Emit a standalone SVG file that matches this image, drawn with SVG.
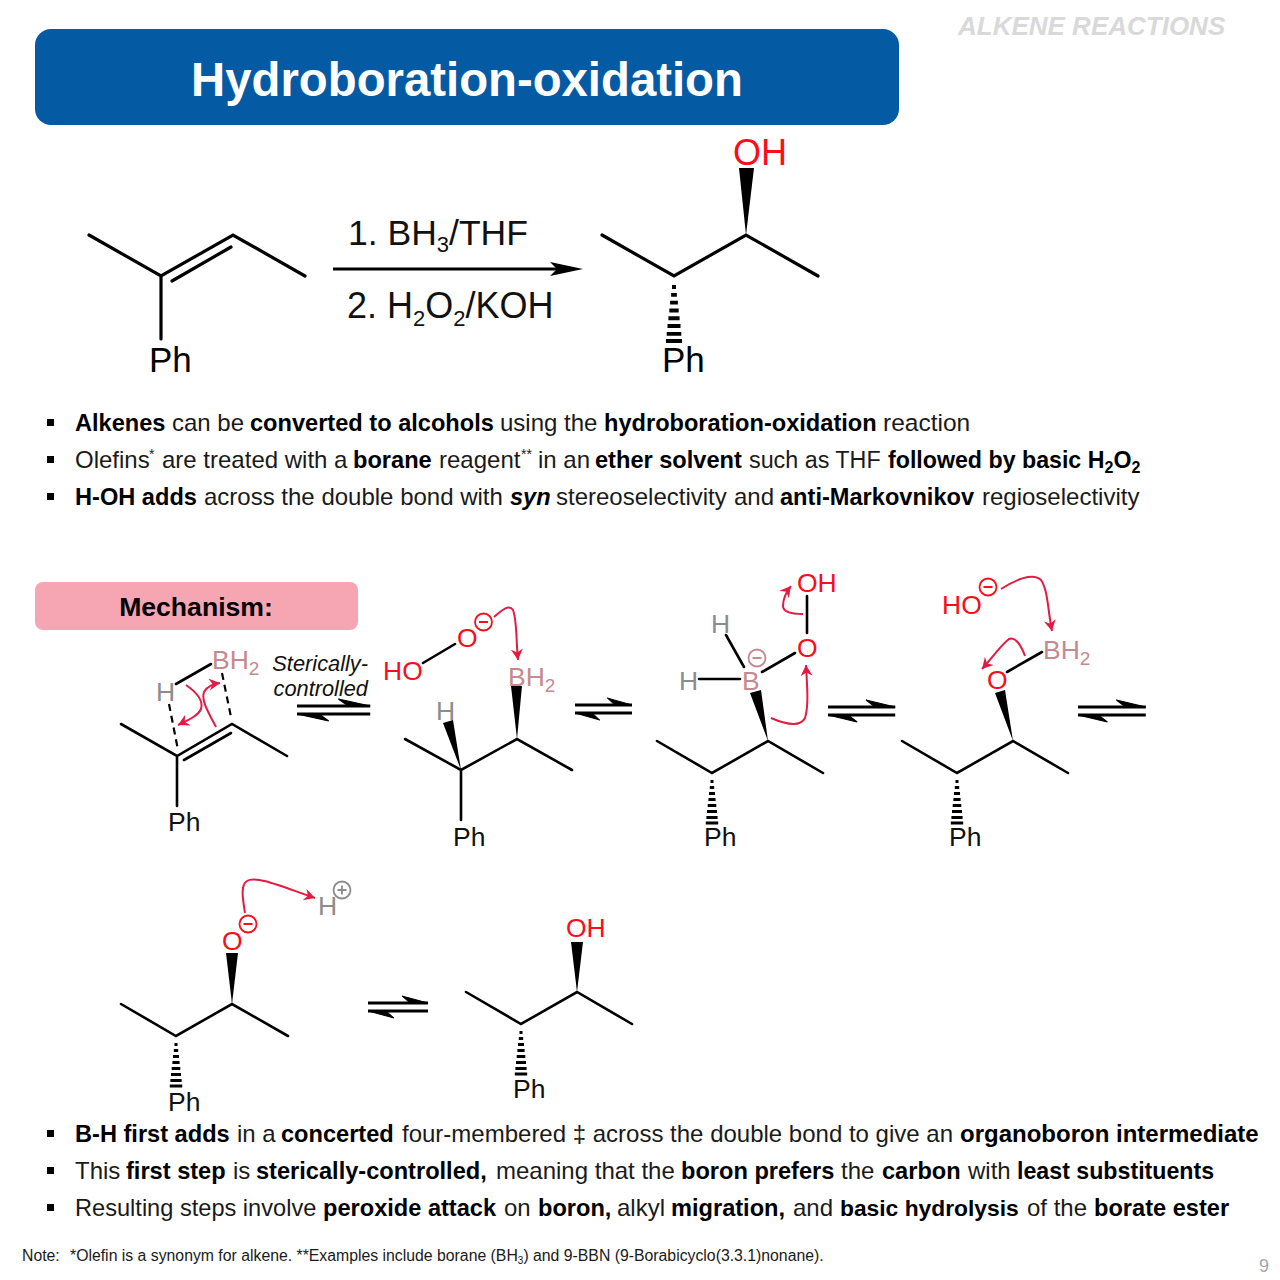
<svg xmlns="http://www.w3.org/2000/svg" xmlns:xlink="http://www.w3.org/1999/xlink" width="1280" height="1280" viewBox="0 0 1280 1280">
<style>
text{font-family:"Liberation Sans",Arial,sans-serif;fill:#000;white-space:pre}
.b{font-weight:700}
.body{font-size:24px;fill:#1a1a1a}
.body .b{fill:#000;font-size:23.6px}
.body .t{font-size:23.300px}
.body .u{font-size:23px}
.at{font-size:26.500px;fill:#111}
.big{font-size:35px}
.h{fill:#8c8c8c}.bo{fill:#c48a8d}.o{fill:#fb0d1b}
.sub{font-size:19px}
.bd{stroke:#000;stroke-width:2.6;fill:none;stroke-linecap:round}
.bdt{stroke:#000;stroke-width:3.2;fill:none;stroke-linecap:round}
.ds{stroke:#000;stroke-width:2.2;fill:none;stroke-dasharray:7 5}
.cv{stroke:#e31b43;stroke-width:2;fill:none}
.eq{stroke:#000;stroke-width:2.8;fill:none}
</style>
<defs>
<marker id="ch" markerUnits="userSpaceOnUse" markerWidth="14" markerHeight="14" refX="11" refY="6" orient="auto"><path d="M0 0L11 6L0 12L3.5 6Z" fill="#e31b43"/></marker>
<path id="hash" d="M-1.5 7h3v3h-3zM-2.2 13h4.4v3h-4.4zM-3 19h6v3h-6zM-3.6 25h7.2v3h-7.2zM-4.3 31h8.6v3h-8.6zM-5 37h10v3h-10zM-5.6 43h11.2v3h-11.2zM-6.2 48.500h12.400v3h-12.400z"/>
<g id="eqa"><path class="eq" d="M0 0H60M0 8H60"/><path d="M60 0L34 -7L42 0Z" stroke="#000" stroke-width="1"/><path d="M0 8L26 15L18 8Z" stroke="#000" stroke-width="1"/></g>
<g id="sq"><rect x="47" y="0" width="7" height="7" fill="#000"/></g>
<g id="minus"><circle r="8.500" fill="none" stroke-width="1.800"/><path d="M-4.500 0H4.500" stroke-width="2"/></g>
</defs>
<rect width="1280" height="1280" fill="#fff"/>

<g id="header">
<rect x="35" y="29" width="864" height="96" rx="16" fill="#045ba4"/>
<text x="467" y="96" text-anchor="middle" class="b" font-size="47.300" style="fill:#fff">Hydroboration-oxidation</text>
<text x="958" y="35" class="b" font-size="26" font-style="italic" style="fill:#d9d9d9">ALKENE REACTIONS</text>
</g>

<g id="reactant-top">
<path class="bdt" d="M89 235L161 276L233 235L305 276M172 281L231 247M161 276V339"/>
<text x="149" y="372" class="big">Ph</text>
</g>
<g id="conditions">
<text x="348" y="245" font-size="35.500" style="fill:#111">1. BH<tspan font-size="22" dy="7">3</tspan><tspan dy="-7">/THF</tspan></text>
<text x="347" y="318" font-size="36" style="fill:#111">2. H<tspan font-size="22" dy="8">2</tspan><tspan dy="-8">O</tspan><tspan font-size="22" dy="8">2</tspan><tspan dy="-8">/KOH</tspan></text>
</g>
<g id="product-top">
<path class="bdt" d="M602 235L674 276L746 235L818 276"/>
<path d="M746 235L739 168H754Z"/>
<use xlink:href="#hash" href="#hash" transform="translate(674 276) scale(1.300)"/>
<text x="733" y="165" font-size="36" class="o">OH</text>
<text x="662" y="372" class="big">Ph</text>
</g>

<g id="bullets-top">
<use href="#sq" y="419"/><use href="#sq" y="456"/><use href="#sq" y="493"/>
<text class="body" y="431"><tspan x="75" class="b">Alkenes</tspan><tspan x="172">can be</tspan><tspan x="250" class="b">converted to alcohols</tspan><tspan x="500">using the</tspan><tspan x="604" class="b">hydroboration-oxidation</tspan><tspan x="883" font-size="24.500">reaction</tspan></text>
<text class="body" y="468"><tspan x="75">Olefins</tspan><tspan x="149" dy="-9" font-size="14">*</tspan><tspan x="162" dy="9">are treated with a</tspan><tspan x="353" class="b">borane</tspan><tspan x="439">reagent</tspan><tspan x="521" dy="-9" font-size="14">**</tspan><tspan x="538" dy="9">in an</tspan><tspan x="595" class="b">ether solvent</tspan><tspan x="749" class="t">such as THF</tspan><tspan x="888" class="b" style="font-size:23.2px">followed by basic H</tspan><tspan class="b" style="font-size:16px" dy="5">2</tspan><tspan class="b" style="font-size:23.2px" dy="-5">O</tspan><tspan class="b" style="font-size:16px" dy="5">2</tspan></text>
<text class="body" y="505"><tspan x="75" class="b">H-OH adds</tspan><tspan x="204">across the double bond with</tspan><tspan x="510" class="b" font-style="italic">syn</tspan><tspan x="556">stereoselectivity</tspan><tspan x="734">and</tspan><tspan x="780" class="b">anti-Markovnikov</tspan><tspan x="982">regioselectivity</tspan></text>
</g>

<g id="mechanism-label">
<rect x="35" y="582" width="323" height="48" rx="8" fill="#f6a5b3"/>
<text x="196" y="616" text-anchor="middle" class="b" font-size="26.600">Mechanism:</text>
</g>

<g id="ts">
<path class="bd" d="M121 724L177 756L232 724L287 756M184 760L231 733M177 756V806M176 684L211 664"/>
<path class="ds" d="M169 704L178 750M222 673L231 717"/>
<text x="156" y="701" class="at h">H</text>
<text x="212" y="669" class="at bo">BH<tspan class="sub" dy="6">2</tspan></text>
<text x="168" y="831" class="at">Ph</text>
</g>
<g id="sterically-label">
<text x="368" y="671" text-anchor="end" font-size="21.800" font-style="italic" style="fill:#111">Sterically-</text>
<text x="368" y="696" text-anchor="end" font-size="21.800" font-style="italic" style="fill:#111">controlled</text>
</g>

<g id="intermediate-1">
<path class="bd" d="M405 739L461 770L517 739L572 770M461 770V820M423 663L455 644"/>
<path d="M461 770L443 723L453 720Z"/>
<path d="M517 739L511 686H522Z"/>
<text x="436" y="720" class="at h">H</text>
<text x="508" y="686" class="at bo">BH<tspan class="sub" dy="6">2</tspan></text>
<text x="453" y="846" class="at">Ph</text>
<text x="383" y="680" class="at o">HO</text>
<text x="457" y="647" class="at o">O</text>
<use href="#minus" transform="translate(483.500 622)" stroke="#fb0d1b"/>
</g>

<g id="intermediate-2">
<path class="bd" d="M657 741L712 773L768 741L823 773M726 635L744 667M699 679H740M762 672L795 653M807 633V596"/>
<path d="M768 741L750 693L761 690Z"/>
<use href="#hash" transform="translate(712 773)"/>
<text x="711" y="633" class="at h">H</text>
<text x="679" y="690" class="at h">H</text>
<text x="742" y="690" class="at bo">B</text>
<use href="#minus" transform="translate(757 658)" stroke="#c48a8d"/>
<text x="797" y="657" class="at o">O</text>
<text x="797" y="592" class="at o">OH</text>
<text x="704" y="846" class="at">Ph</text>
</g>

<g id="intermediate-3">
<path class="bd" d="M902 741L957 773L1013 741L1068 773M1007 672L1042 652"/>
<path d="M1013 741L995 693L1005 690Z"/>
<use href="#hash" transform="translate(957 773)"/>
<text x="987" y="689" class="at o">O</text>
<text x="1043" y="659" class="at bo">BH<tspan class="sub" dy="6">2</tspan></text>
<text x="942" y="614" class="at o">HO</text>
<use href="#minus" transform="translate(988 587)" stroke="#fb0d1b"/>
<text x="949" y="846" class="at">Ph</text>
</g>

<g id="intermediate-4">
<path class="bd" d="M121 1004L176 1036L232 1004L288 1036"/>
<path d="M232 1004L226 953H238Z"/>
<use href="#hash" transform="translate(176 1036)"/>
<text x="222" y="950" class="at o">O</text>
<use href="#minus" transform="translate(248 924)" stroke="#fb0d1b"/>
<text x="318" y="915" class="at h">H</text>
<g transform="translate(342 890)" stroke="#8c8c8c"><circle r="8.500" fill="none" stroke-width="1.800"/><path d="M-4.500 0H4.500M0 -4.500V4.500" stroke-width="1.800"/></g>
<text x="168" y="1111" class="at">Ph</text>
</g>

<g id="final-product">
<path class="bd" d="M466 992L521 1024L577 992L632 1024"/>
<path d="M577 992L571 942H583Z"/>
<use href="#hash" transform="translate(521 1024)"/>
<text x="566" y="937" class="at o">OH</text>
<text x="513" y="1098" class="at">Ph</text>
</g>

<g id="connectors">
<path d="M333 269H565" stroke="#000" stroke-width="3.200"/>
<path d="M583 269L550 262L557 269L550 276Z"/>
<use href="#eqa" transform="translate(297 706) scale(1.220 1)"/>
<use href="#eqa" transform="translate(575 705) scale(.95 1)"/>
<use href="#eqa" transform="translate(828 707) scale(1.120 1)"/>
<use href="#eqa" transform="translate(1078 707) scale(1.130 1)"/>
<use href="#eqa" transform="translate(368 1003)"/>
<path class="cv" marker-end="url(#ch)" d="M186 685C196 692 204 700 201 709C198 716 188 720 178 725"/>
<path class="cv" marker-end="url(#ch)" d="M216 727C208 712 201 700 204 692C207 686 213 684 220 683"/>
<path class="cv" marker-end="url(#ch)" d="M494 617C502 610 509 604 513 610C517 620 516 640 518 660"/>
<path class="cv" marker-end="url(#ch)" d="M803 614C790 614 783 612 783 606C783 598 787 591 791 586"/>
<path class="cv" marker-end="url(#ch)" d="M771 718C785 724 800 728 805 718C809 705 807 685 806 665"/>
<path class="cv" marker-end="url(#ch)" d="M1001 589C1015 580 1033 572 1041 580C1048 590 1048 612 1052 631"/>
<path class="cv" marker-end="url(#ch)" d="M1025 656C1021 645 1015 636 1009 639C1001 645 992 658 982 669"/>
<path class="cv" marker-end="url(#ch)" d="M245 913C243 900 240 885 247 881C256 875 285 888 315 898"/>
</g>

<g id="bullets-bottom">
<use href="#sq" y="1130"/><use href="#sq" y="1167"/><use href="#sq" y="1204"/>
<text class="body" y="1142"><tspan x="75" class="b">B-H first adds</tspan><tspan x="237">in a</tspan><tspan x="281" class="b">concerted</tspan><tspan x="402">four-membered ‡ across the double bond to give an</tspan><tspan x="960" class="b" style="font-size:24px">organoboron intermediate</tspan></text>
<text class="body" y="1179"><tspan x="75">This</tspan><tspan x="126" class="b">first step</tspan><tspan x="233">is</tspan><tspan x="256" class="b">sterically-controlled,</tspan><tspan x="496">meaning that the</tspan><tspan x="681" class="b">boron prefers</tspan><tspan x="841">the</tspan><tspan x="882" class="b">carbon</tspan><tspan x="968">with</tspan><tspan x="1017" class="b" style="font-size:23.2px">least substituents</tspan></text>
<text class="body" y="1216"><tspan x="75" style="font-size:23.6px">Resulting steps involve</tspan><tspan x="323" class="b">peroxide attack</tspan><tspan x="504">on</tspan><tspan x="538" class="b">boron,</tspan><tspan x="617">alkyl</tspan><tspan x="671" class="b">migration,</tspan><tspan x="793">and</tspan><tspan x="840" class="b" style="font-size:22.8px">basic hydrolysis</tspan><tspan x="1027">of the</tspan><tspan x="1094" class="b">borate ester</tspan></text>
</g>

<g id="footer">
<text y="1261" font-size="15.800" style="fill:#1a1a1a"><tspan x="22">Note:</tspan><tspan x="70">*Olefin is a synonym for alkene. **Examples include borane (BH</tspan><tspan font-size="10" dy="3">3</tspan><tspan dy="-3">) and 9-BBN (9-Borabicyclo(3.3.1)nonane).</tspan></text>
<text x="1259" y="1272" font-size="18" style="fill:#a6a6a6">9</text>
</g>
</svg>
